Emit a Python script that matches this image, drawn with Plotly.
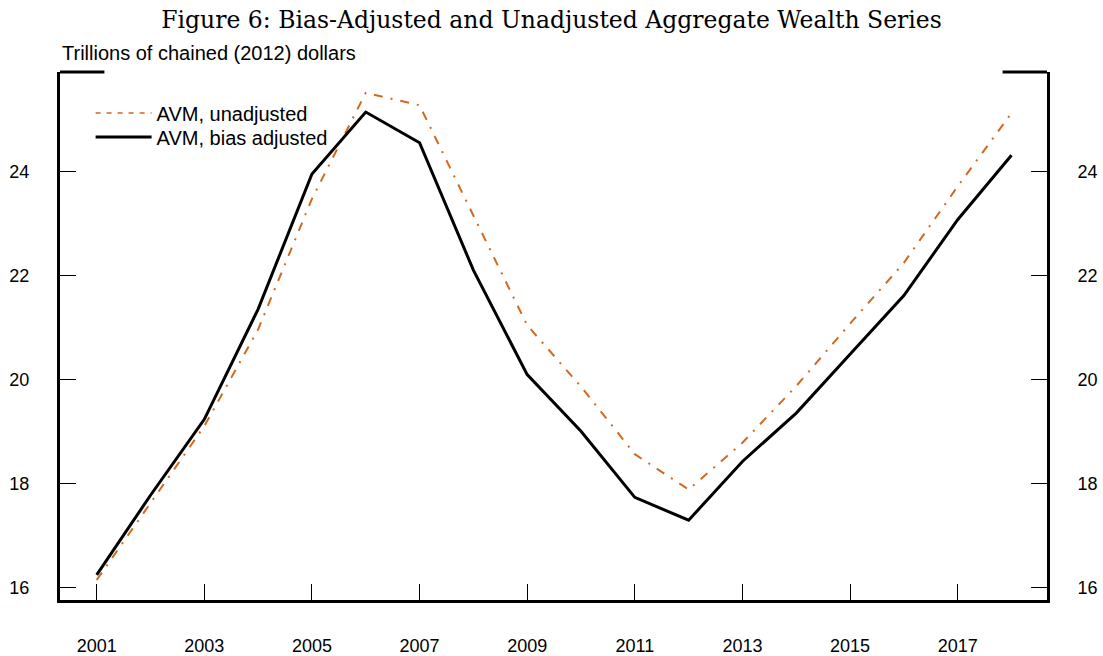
import plotly.graph_objects as go

years = list(range(2001, 2019))
bias_adjusted = [16.24, 17.77, 19.23, 21.35, 23.95, 25.14, 24.55, 22.10, 20.09, 19.00,
                 17.73, 17.29, 18.42, 19.35, 20.48, 21.61, 23.07, 24.31]
unadjusted = [16.14, 17.62, 19.10, 20.96, 23.47, 25.51, 25.27, 23.15, 21.04, 19.86,
              18.56, 17.88, 18.78, 19.87, 21.07, 22.24, 23.71, 25.12]
x_ticks = [2001, 2003, 2005, 2007, 2009, 2011, 2013, 2015, 2017]
y_ticks = [16, 18, 20, 22, 24]

ORANGE = "#D2691E"
SANS = "Liberation Sans, Arial, sans-serif"

fig = go.Figure()
fig.add_trace(go.Scatter(x=years, y=unadjusted, mode="lines", showlegend=False,
                         line=dict(color=ORANGE, width=2, dash="9px,8px,2px,8px")))
fig.add_trace(go.Scatter(x=years, y=bias_adjusted, mode="lines", showlegend=False,
                         line=dict(color="black", width=3)))
# legend entries
fig.add_trace(go.Scatter(x=[None], y=[None], mode="lines", name="AVM, unadjusted",
                         legend="legend",
                         line=dict(color=ORANGE, width=1.5, dash="5px,6px")))
fig.add_trace(go.Scatter(x=[None], y=[None], mode="lines", name="AVM, bias adjusted",
                         legend="legend2",
                         line=dict(color="black", width=3)))
# invisible trace on right axis
fig.add_trace(go.Scatter(x=years, y=bias_adjusted, mode="lines", yaxis="y2",
                         showlegend=False, hoverinfo="skip",
                         line=dict(color="rgba(0,0,0,0)", width=0)))

yr = [15.756, 25.91]
common_axis = dict(ticks="inside", ticklen=16, tickwidth=1.2, tickcolor="black",
                   showline=True, linewidth=3, linecolor="black", showgrid=False,
                   zeroline=False, automargin=False, tickfont=dict(size=18))
leg_common = dict(xanchor="left", yanchor="middle", bgcolor="rgba(0,0,0,0)",
                  font=dict(size=20, family=SANS), itemwidth=56)
fig.update_layout(
    width=1103, height=656,
    margin=dict(l=60, r=56, t=72, b=56, autoexpand=False),
    paper_bgcolor="white", plot_bgcolor="white",
    font=dict(family=SANS, size=18, color="black"),
    title=dict(text="Figure 6: Bias-Adjusted and Unadjusted Aggregate Wealth Series",
               x=0.5, xanchor="center", y=1 - 20 / 656, yanchor="middle", yref="container",
               font=dict(family="DejaVu Serif, serif", size=23.5)),
    xaxis=dict(range=[2000.318, 2018.66], tickvals=x_ticks, ticklabelstandoff=27,
               **common_axis),
    yaxis=dict(range=yr, tickvals=y_ticks, ticklabelstandoff=24, **common_axis),
    yaxis2=dict(range=yr, tickvals=y_ticks, overlaying="y", side="right",
                ticklabelstandoff=24, **common_axis),
    legend=dict(x=0.031, y=(600 - 113) / 528, **leg_common),
    legend2=dict(x=0.031, y=(600 - 137) / 528, **leg_common),
    shapes=[
        dict(type="line", xref="x domain", yref="y domain", x0=0, x1=0.045, y0=1, y1=1,
             line=dict(color="black", width=3)),
        dict(type="line", xref="x domain", yref="y domain", x0=0.955, x1=1, y0=1, y1=1,
             line=dict(color="black", width=3)),
    ],
    annotations=[
        dict(text="Trillions of chained (2012) dollars", xref="paper", yref="paper",
             x=0, y=1, xanchor="left", yanchor="bottom", yshift=6, showarrow=False,
             font=dict(size=20, family=SANS)),
    ],
)

fig.write_html("out.html", config={"displayModeBar": False},
               post_script="document.body.style.margin='0';document.body.style.padding='0';"
                           "document.body.style.overflow='hidden';")
